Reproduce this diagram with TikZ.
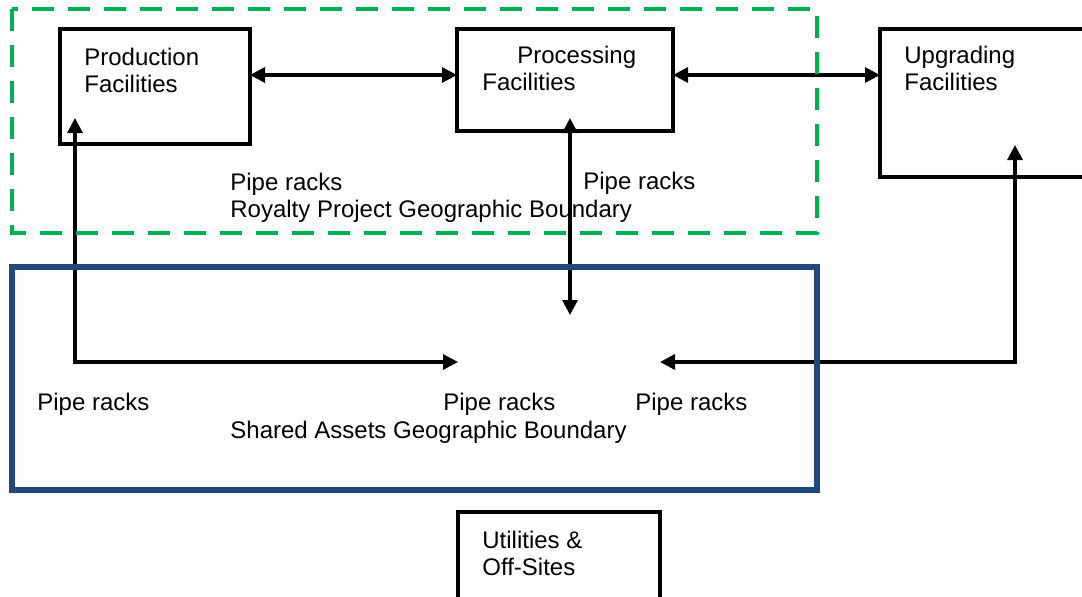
\documentclass[tikz,border=0pt]{standalone}
\usepackage{fontspec}
\setmainfont{Liberation Sans}
\usetikzlibrary{arrows.meta,positioning,calc}

\definecolor{royaltygreen}{RGB}{0,176,80}
\definecolor{sharedblue}{RGB}{31,73,125}

\tikzset{
  box/.style={draw, line width=2pt, inner sep=0pt, outer sep=0pt, anchor=north west},
  lbl/.style={inner sep=0pt, anchor=base west, align=left,
    font=\fontsize{12pt}{13.5pt}\selectfont},
  biarrow/.style={{Triangle[length=7.5pt,width=7.5pt]}-{Triangle[length=7.5pt,width=7.5pt]}, line width=1.6pt},
  royalty/.style={draw=royaltygreen, line width=2pt, dash pattern=on 11pt off 7pt},
  shared/.style={draw=sharedblue, line width=3pt}
}

\begin{document}
\begin{tikzpicture}[x=0.5pt, y=-0.5pt]
      \useasboundingbox (0,0) rectangle (1082,596);
      % Define nodes
      \node[box, minimum width=95pt, minimum height=57.5pt] (prod) at (60,29) {};
      \node[box, minimum width=108pt, minimum height=51pt, right=103.5pt of prod.north east, anchor=north west] (proc) {};
      \node[box, minimum width=125pt, minimum height=74pt, right=103.5pt of proc.north east, anchor=north west] (upg) {};
      \node[box, minimum width=101pt, minimum height=50pt] (util) at (458,512) {};
      \node[lbl] (prodtxt) at (84,92) {Production\\Facilities};
      \node[lbl] (proctxt) at (482,90) {\hspace*{17.5pt}Processing\\Facilities};
      \node[lbl] (upgtxt) at (904,90) {Upgrading\\Facilities};
      \node[lbl] (utiltxt) at (482,575) {Utilities \&\\Off-Sites};
      % Hub points
      \coordinate (hubW) at (util.north west |- 0,362);
      \coordinate (hubE) at (util.north east |- 0,362);
      \coordinate (hubN) at (570,315);
      \coordinate (pp) at ($(prod.north east)!0.4!(prod.south east)$);
      \coordinate (prodIn) at ([xshift=7.5pt,yshift=13pt]prod.south west);
      \coordinate (procIn) at (hubN |- 0,118);
      \coordinate (upgIn) at ([xshift=67.5pt,yshift=16pt]upg.south west);
      % Connect nodes
      \draw[biarrow] (pp) -- (pp -| proc.west);
      \draw[biarrow] (pp -| proc.east) -- (pp -| upg.west);
      \draw[biarrow] (hubN) -- (procIn);
      \draw[biarrow] (hubW) -| (prodIn);
      \draw[biarrow] (hubE) -| (upgIn);
      % Boundaries
      \draw[royalty] (12,9) rectangle (817,233);
      \draw[shared] (12,267) rectangle (817,490);
      \node[lbl] (pr1) at (230,217) {Pipe racks\\Royalty Project Geographic Boundary};
      \node[lbl] (pr2) at (583,189) {Pipe racks};
      \node[lbl] (pr3) at (37,410) {Pipe racks};
      \node[lbl] (pr4) at (443,410) {Pipe racks};
      \node[lbl] (pr5) at (635,410) {Pipe racks};
      \node[lbl] (sag) at (230,438) {Shared Assets Geographic Boundary};
    \end{tikzpicture}
\end{document}
